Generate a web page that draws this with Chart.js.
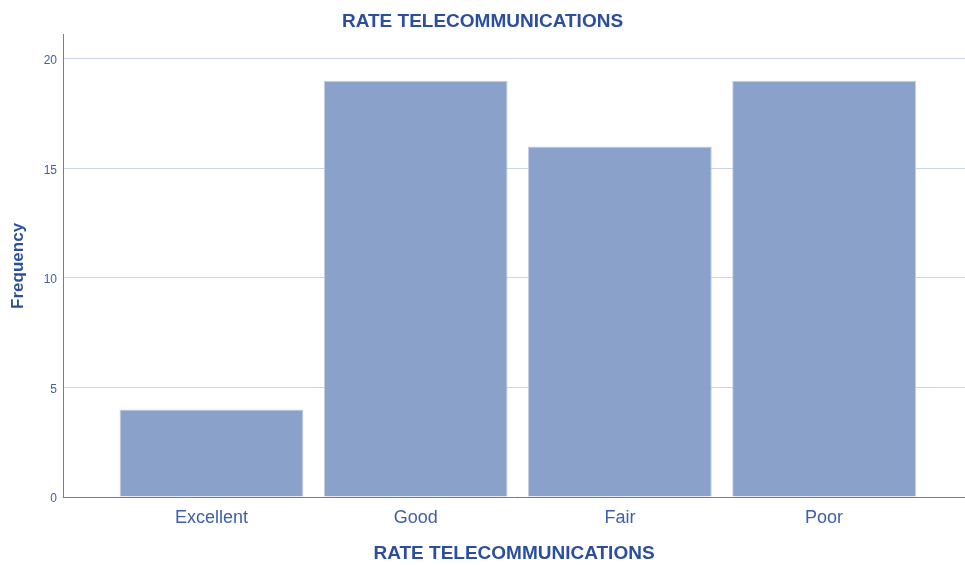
<!DOCTYPE html>
<html>
<head>
<meta charset="utf-8">
<script src="https://cdn.jsdelivr.net/npm/chart.js@4.4.1/dist/chart.umd.min.js"></script>
<style>
html,body{margin:0;padding:0;background:#fff;}
#wrap{width:965px;height:565px;position:relative;}
</style>
</head>
<body>
<div id="wrap"><canvas id="c" width="965" height="565"></canvas></div>
<script>
const chartTitle = "RATE TELECOMMUNICATIONS";
const xAxisTitle = "RATE TELECOMMUNICATIONS";
const yAxisTitle = "Frequency";
const categories = ["Excellent", "Good", "Fair", "Poor"];
const frequencies = [4, 19, 16, 19];
const yTicks = [0, 5, 10, 15, 20];

const titleColor = "#2c4f9d";
const tickColor = "#3f60a8";
const axisColor = "#5f7fc2";
const fontFam = "'Liberation Sans', Arial, sans-serif";

const points = categories.map((c, i) => ({ x: i, y: frequencies[i] }));

new Chart(document.getElementById('c'), {
  type: 'bar',
  data: {
    datasets: [{
      data: points,
      backgroundColor: '#8aa1ca',
      borderColor: '#c3cfe6',
      borderWidth: 1,
      categoryPercentage: 1.0,
      barPercentage: 0.9
    }]
  },
  options: {
    responsive: false,
    animation: false,
    devicePixelRatio: 1,
    layout: { padding: { top: 1 } },
    plugins: {
      legend: { display: false },
      tooltip: { enabled: false },
      title: {
        display: true,
        text: chartTitle,
        color: titleColor,
        font: { family: fontFam, size: 19, weight: 'bold', lineHeight: 1.2 },
        padding: { top: 9, bottom: 2 }
      }
    },
    scales: {
      x: {
        type: 'linear',
        offset: false,
        min: -0.727,
        max: 3.69,
        afterFit: (s) => { s.height = 68; },
        grid: { display: false, drawTicks: false },
        border: { display: true, color: axisColor, width: 1 },
        ticks: {
          stepSize: 1,
          includeBounds: false,
          padding: 10,
          color: tickColor,
          font: { family: fontFam, size: 18 },
          callback: (v) => (Number.isInteger(v) && v >= 0 && v < categories.length) ? categories[v] : ''
        },
        title: {
          display: true,
          text: xAxisTitle,
          color: titleColor,
          font: { family: fontFam, size: 19, weight: 'bold', lineHeight: 1.0 },
          padding: { top: 0, bottom: 2 }
        }
      },
      y: {
        min: 0,
        max: 21.1,
        afterFit: (s) => { s.width = 63; },
        afterBuildTicks: (s) => { s.ticks = yTicks.map(v => ({ value: v })); },
        grid: {
          drawTicks: false,
          color: (ctx) => ctx.tick && ctx.tick.value === 0 ? 'rgba(0,0,0,0)' : '#c9d3ea',
          lineWidth: 1
        },
        border: { display: true, color: axisColor, width: 1 },
        ticks: {
          padding: 6,
          labelOffset: 2,
          color: tickColor,
          font: { family: fontFam, size: 12 }
        },
        title: {
          display: true,
          text: yAxisTitle,
          color: titleColor,
          font: { family: fontFam, size: 17, weight: 'bold', lineHeight: 1.2 },
          padding: { top: 8, bottom: 0 }
        }
      }
    }
  }
});
</script>
</body>
</html>
